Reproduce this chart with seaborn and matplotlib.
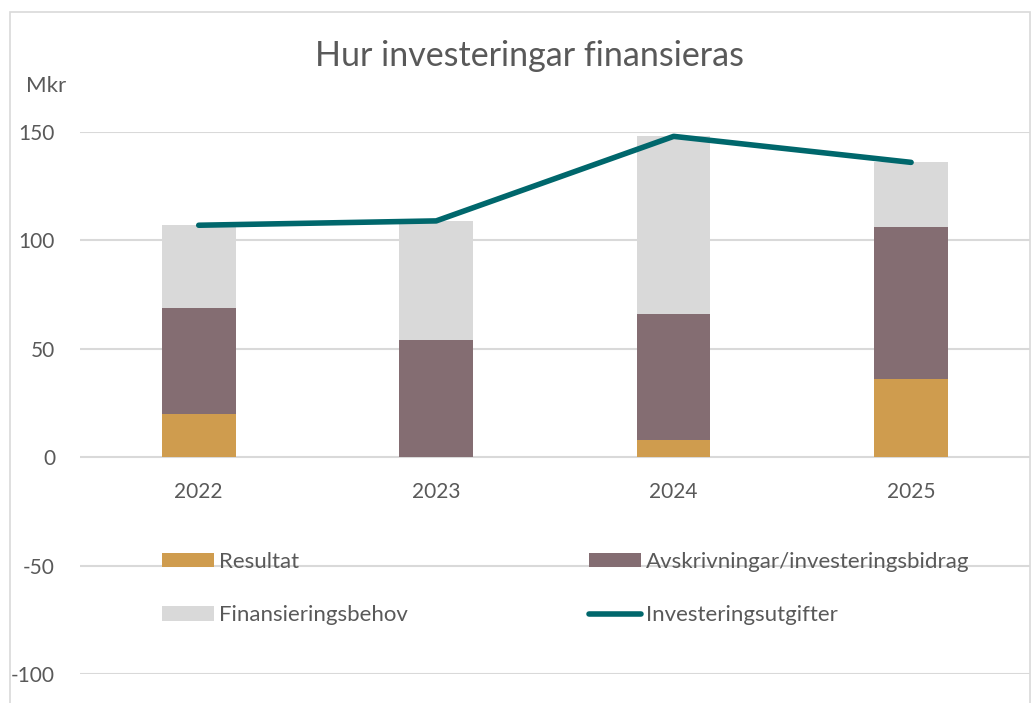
import numpy as np
import pandas as pd
import matplotlib
matplotlib.use("Agg")
import matplotlib.pyplot as plt
from matplotlib.patches import Patch, Rectangle
from matplotlib.lines import Line2D
import seaborn as sns

# data (Mkr)
years = ["2022", "2023", "2024", "2025"]
resultat = [20, 0, 8, 36]
avskrivningar = [49, 54, 58, 70]
finansieringsbehov = [38, 55, 82, 30]
investeringsutgifter = [107, 109, 148, 136]

c_res = "#CF9C4E"
c_avs = "#846D72"
c_fin = "#D9D9D9"
c_inv = "#00676C"
txt = "#595959"

sns.set_theme(style="white")
plt.rcParams["font.family"] = ["Lato", "DejaVu Sans"]
plt.rcParams["axes.unicode_minus"] = False

df = pd.DataFrame({"year": years, "res": resultat, "avs": avskrivningar, "fin": finansieringsbehov})
df["lvl2"] = df["res"] + df["avs"]
df["lvl3"] = df["lvl2"] + df["fin"]

fig = plt.figure(figsize=(10.35, 7.03), dpi=100)
ax = fig.add_axes([0.0773, 0.0413, 0.9177, 0.7709])

# stacked bars: draw totals first, then overlay lower parts
for col, c in [("lvl3", c_fin), ("lvl2", c_avs), ("res", c_res)]:
    sns.barplot(data=df, x="year", y=col, color=c, width=0.31, saturation=1,
                linewidth=0, ax=ax, zorder=2)
sns.pointplot(x=years, y=investeringsutgifter, color=c_inv, markers="", linewidth=4, ax=ax)
for ln in ax.lines:
    ln.set_solid_capstyle("round")
    ln.set_zorder(4)
    ln.set_clip_on(False)

ax.set_ylim(-100, 150)
ax.set_xlim(-0.5, 3.5)
ax.set_yticks([-100, -50, 0, 50, 100, 150])
ax.yaxis.grid(True, color="#D9D9D9", linewidth=1.5)
ax.set_axisbelow(True)
for s in ax.spines.values():
    s.set_visible(False)
ax.spines["bottom"].set_position(("data", 0))
ax.tick_params(axis="x", length=0, pad=18, labelsize=15, labelcolor=txt)
ax.tick_params(axis="y", length=0, pad=18, labelsize=15, labelcolor=txt)
ax.set_xlabel("")
ax.set_ylabel("")

fig.text(0.512, 0.921, "Hur investeringar finansieras", ha="center", va="center", fontsize=24.5, color=txt)
fig.text(0.025, 0.878, "Mkr", ha="left", va="center", fontsize=16, color=txt)

handles = [
    Patch(facecolor=c_res, edgecolor="none", label="Resultat"),
    Patch(facecolor=c_fin, edgecolor="none", label="Finansieringsbehov"),
    Patch(facecolor=c_avs, edgecolor="none", label="Avskrivningar/investeringsbidrag"),
    Line2D([0], [0], color=c_inv, linewidth=4, solid_capstyle="round", label="Investeringsutgifter"),
]
leg = ax.legend(handles=handles, ncol=2, loc="upper left", bbox_to_anchor=(0.065, 0.262),
                frameon=False, fontsize=16, handlelength=2.35, handleheight=0.63,
                handletextpad=0.23, labelspacing=1.49, columnspacing=8.15)
for t in leg.get_texts():
    t.set_color(txt)

# chart border
fig.patches.append(Rectangle((10 / 1035, -0.05), 1020 / 1035, 1 - 12 / 703 + 0.05, transform=fig.transFigure,
                             fill=False, edgecolor="#D9D9D9", linewidth=1.2))

fig.savefig("out.png", dpi=100)
